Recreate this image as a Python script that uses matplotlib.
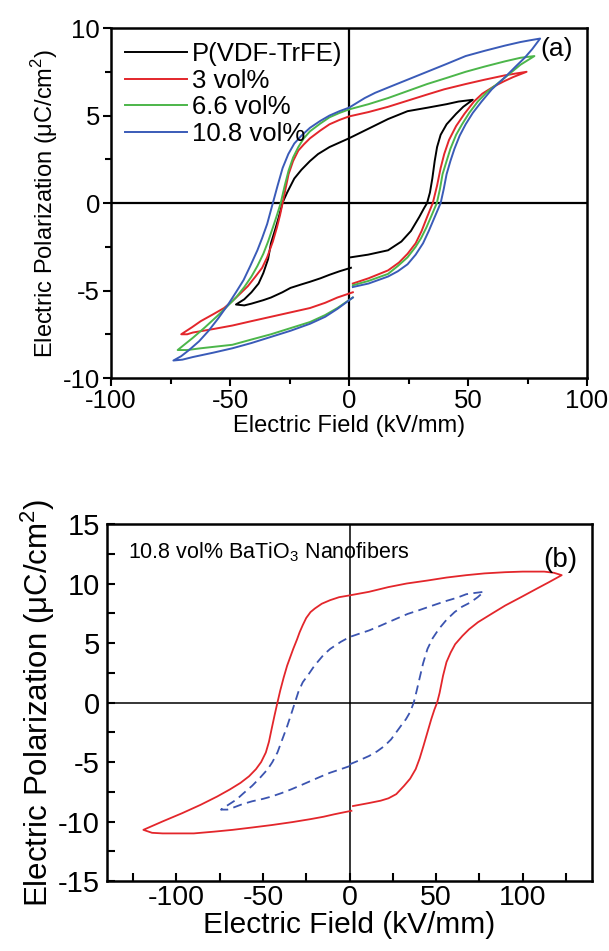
import numpy as np
import matplotlib.pyplot as plt
from matplotlib.ticker import MultipleLocator

plt.rcParams['font.family'] = ['Liberation Sans', 'DejaVu Sans']
plt.rcParams['mathtext.fontset'] = 'custom'
plt.rcParams['mathtext.rm'] = 'Liberation Sans'
plt.rcParams['axes.unicode_minus'] = False

# ---- panel (a): loops (E in kV/mm, P in uC/cm2) ----
pvdf_E = [0.8, 8.0, 16.4, 22.0, 26.0, 29.5, 31.5, 32.8, 34.0, 35.0, 36.0, 37.0, 38.5, 41.0, 45.0, 48.0, 52.0,
          46.0, 41.0, 33.0, 24.6, 16.4, 8.2, 0.0, -8.2, -13.0, -16.4, -20.0, -23.0, -26.0, -28.0,
          -29.5, -31.0, -32.8, -34.0, -36.0, -38.0, -41.0, -44.0, -47.5,
          -44.0, -41.0, -36.0, -32.8, -28.0, -24.6, -20.0, -16.4, -12.0, -8.2, -4.0, 0.8]
pvdf_P = [-3.1, -2.95, -2.7, -2.2, -1.6, -0.8, -0.3, 0.0, 0.6, 1.4, 2.4, 3.2, 3.9, 4.5, 5.1, 5.5, 5.9,
          5.8, 5.65, 5.45, 5.25, 4.8, 4.25, 3.7, 3.2, 2.8, 2.4, 1.9, 1.4, 0.6, 0.0,
          -0.8, -1.5, -2.3, -3.2, -4.0, -4.6, -5.1, -5.5, -5.8,
          -5.85, -5.75, -5.55, -5.4, -5.1, -4.85, -4.65, -4.5, -4.3, -4.1, -3.9, -3.7]

vol3_E = [1.6, 8.2, 16.4, 21.0, 24.6, 28.0, 30.5, 32.8, 35.2, 37.0, 38.5, 40.0, 42.0, 45.0, 48.5,
          52.5, 56.0, 60.7, 65.0, 69.0, 74.6,
          70.0, 65.6, 57.0, 49.0, 40.0, 32.8, 24.6, 16.4, 8.2, 0.0, -4.0, -8.2, -12.0, -16.4,
          -19.0, -21.3, -23.5, -25.4, -26.7, -27.9, -29.0, -30.3, -32.0, -34.4, -36.5, -39.3,
          -42.5, -45.9, -49.0, -52.5, -57.0, -62.3, -66.0, -70.5,
          -68.0, -65.6, -57.0, -49.0, -41.0, -32.8, -24.6, -16.4, -10.0, -4.9, 1.6]
vol3_P = [-4.6, -4.3, -3.85, -3.4, -2.9, -2.3, -1.6, -0.8, 0.0, 1.0, 2.0, 2.8, 3.6, 4.4, 5.1,
          5.8, 6.25, 6.65, 6.95, 7.2, 7.5,
          7.4, 7.3, 7.05, 6.8, 6.5, 6.2, 5.85, 5.5, 5.2, 4.95, 4.75, 4.5, 4.15, 3.7,
          3.35, 3.0, 2.4, 1.65, 0.8, 0.0, -0.7, -1.4, -2.2, -3.1, -3.7, -4.2,
          -4.75, -5.2, -5.6, -6.0, -6.35, -6.75, -7.1, -7.5,
          -7.5, -7.4, -7.2, -7.0, -6.75, -6.5, -6.25, -6.0, -5.7, -5.4, -5.1]

vol66_E = [1.6, 8.2, 16.4, 20.5, 24.6, 28.0, 30.3, 32.5, 34.4, 36.9, 38.2, 39.3, 41.0, 42.6, 45.0,
           47.5, 50.5, 54.1, 58.0, 64.0, 68.0, 72.0, 77.9,
           72.0, 65.6, 57.0, 49.0, 41.0, 32.8, 24.6, 16.4, 8.2, 0.0, -4.0, -8.2, -12.0, -16.4,
           -19.0, -21.3, -23.5, -25.4, -27.0, -28.7, -30.3, -32.0, -34.0, -36.0, -38.5, -41.0,
           -44.0, -47.5, -51.5, -55.7, -60.5, -65.6, -72.0,
           -68.0, -62.3, -55.7, -49.0, -41.0, -32.8, -24.6, -16.4, -10.0, -4.9, 1.6]
vol66_P = [-4.7, -4.45, -4.05, -3.6, -3.1, -2.5, -2.0, -1.4, -0.8, 0.0, 0.8, 1.65, 2.4, 3.1, 3.9,
           4.5, 5.15, 5.8, 6.35, 7.0, 7.45, 7.9, 8.4,
           8.3, 8.1, 7.8, 7.5, 7.15, 6.8, 6.4, 6.0, 5.65, 5.35, 5.15, 4.9, 4.55, 4.1,
           3.7, 3.2, 2.6, 1.85, 1.0, 0.0, -0.7, -1.4, -2.2, -2.9, -3.6, -4.2,
           -4.8, -5.4, -5.95, -6.5, -7.1, -7.7, -8.4,
           -8.4, -8.3, -8.2, -8.1, -7.8, -7.5, -7.15, -6.8, -6.4, -6.0, -5.4]

vol108_E = [1.6, 8.2, 16.4, 20.5, 24.6, 28.0, 31.1, 33.5, 36.0, 38.5, 39.8, 41.0, 42.6, 44.3, 46.5,
            49.0, 52.0, 55.7, 60.0, 65.6, 70.0, 73.8, 77.0, 80.3,
            76.0, 72.0, 65.6, 57.0, 49.0, 41.0, 32.8, 24.6, 16.4, 11.0, 6.6, 3.0, 0.0, -4.0, -8.2,
            -12.0, -16.4, -20.0, -23.0, -25.5, -27.9, -30.0, -32.0, -33.2, -34.4, -36.5, -38.5,
            -41.5, -44.3, -47.5, -50.8, -55.0, -59.0, -63.0, -67.2, -70.5, -73.8,
            -70.0, -65.6, -57.0, -49.0, -41.0, -32.8, -24.6, -16.4, -10.0, -4.9, 1.6]
vol108_P = [-4.8, -4.6, -4.2, -3.9, -3.5, -2.95, -2.3, -1.6, -0.8, 0.0, 0.8, 1.65, 2.4, 3.1, 3.85,
            4.5, 5.15, 5.8, 6.5, 7.2, 7.8, 8.3, 8.8, 9.4,
            9.3, 9.2, 9.0, 8.7, 8.4, 7.95, 7.5, 7.05, 6.6, 6.3, 6.0, 5.7, 5.45, 5.25, 5.0,
            4.7, 4.3, 3.85, 3.4, 2.8, 2.0, 1.0, 0.0, -0.6, -1.2, -2.0, -2.7,
            -3.6, -4.4, -5.1, -5.8, -6.6, -7.3, -7.9, -8.4, -8.75, -9.0,
            -8.95, -8.8, -8.55, -8.3, -8.0, -7.65, -7.3, -6.9, -6.5, -6.05, -5.4]

labels_a = ['P(VDF-TrFE)', '3 vol%', '6.6 vol%', '10.8 vol%']
colors_a = ['black', '#e3262b', '#4cb64a', '#3a5bb8']

# ---- panel (b): 10.8 vol% nanofibers at two fields ----
high_E = [2.0, 11.2, 18.0, 22.5, 27.0, 31.5, 35.0, 38.2, 40.5, 42.7, 45.0, 47.2, 49.0, 50.6, 52.0,
          54.0, 56.0, 58.4, 61.0, 65.2, 69.0, 74.2, 82.0, 89.9, 99.0, 107.9, 115.0, 122.5,
          118.0, 112.4, 100.0, 89.9, 78.0, 67.4, 56.0, 45.0, 33.0, 22.5, 11.2, 0.0, -6.0, -11.2,
          -16.0, -20.0, -22.5, -25.0, -27.0, -28.8, -30.3, -32.5, -34.5, -36.0, -38.0, -40.0,
          -41.6, -43.3, -45.0, -46.5, -48.3, -51.0, -54.0, -58.0, -62.9, -69.0, -76.4, -86.0,
          -96.6, -108.0, -119.0,
          -114.0, -107.9, -89.9, -78.0, -67.4, -56.0, -45.0, -33.0, -22.5, -15.0, -9.0, -4.0, 1.1]
high_P = [-8.7, -8.45, -8.25, -8.05, -7.7, -7.0, -6.4, -5.6, -4.7, -3.65, -2.5, -1.4, -0.6, 0.0, 0.8,
          2.25, 3.4, 4.2, 4.9, 5.6, 6.15, 6.75, 7.45, 8.15, 8.85, 9.55, 10.1, 10.7,
          10.9, 11.0, 11.0, 10.95, 10.85, 10.7, 10.5, 10.25, 10.0, 9.7, 9.3, 9.0, 8.85, 8.6,
          8.3, 7.9, 7.6, 7.1, 6.5, 5.9, 5.3, 4.5, 3.7, 3.1, 2.1, 1.0,
          0.0, -1.1, -2.25, -3.3, -4.2, -5.0, -5.6, -6.2, -6.75, -7.3, -7.9, -8.6,
          -9.3, -10.0, -10.7,
          -10.95, -11.0, -11.0, -10.85, -10.7, -10.5, -10.3, -10.05, -9.8, -9.6, -9.4, -9.25, -9.1]

low_E = [0.0, 5.0, 11.2, 16.0, 20.2, 24.0, 27.0, 30.0, 32.6, 35.0, 37.1, 38.8, 40.4, 42.5, 45.0,
         48.0, 51.7, 56.0, 60.7, 65.0, 69.7, 74.0, 77.5,
         72.0, 67.4, 62.0, 56.2, 50.0, 45.0, 39.0, 33.7, 28.0, 22.5, 17.0, 11.2, 5.0, 0.0,
         -5.0, -11.2, -15.0, -20.2, -23.5, -27.0, -29.5, -31.5, -33.5, -36.0, -38.8, -41.6,
         -44.5, -47.2, -51.5, -56.2, -61.0, -65.2, -70.0, -74.2,
         -70.5, -67.4, -62.0, -56.2, -50.0, -45.0, -39.0, -33.7, -28.0, -22.5, -17.0, -11.2, -5.0, 0.0]
low_P = [-5.2, -4.9, -4.5, -4.1, -3.65, -3.1, -2.5, -1.9, -1.4, -0.8, 0.0, 1.0, 2.0, 3.3, 4.5,
         5.4, 6.2, 6.95, 7.6, 8.05, 8.4, 8.85, 9.3,
         9.2, 9.1, 8.8, 8.55, 8.25, 8.0, 7.7, 7.45, 7.1, 6.75, 6.4, 6.05, 5.75, 5.5,
         5.1, 4.5, 4.0, 3.1, 2.4, 1.7, 0.9, 0.0, -0.9, -2.0, -3.1, -4.2,
         -5.0, -5.6, -6.3, -7.0, -7.6, -8.15, -8.6, -9.0,
         -9.0, -8.85, -8.55, -8.3, -8.1, -7.9, -7.6, -7.3, -6.95, -6.6, -6.25, -5.9, -5.6, -5.35]

fig = plt.figure(figsize=(6.09, 9.51), dpi=100)

# ---------------- (a) ----------------
ax1 = fig.add_axes([0.1823, 0.6025, 0.7816, 0.368])
for (E, P), lab, c in zip([(pvdf_E, pvdf_P), (vol3_E, vol3_P), (vol66_E, vol66_P), (vol108_E, vol108_P)],
                          labels_a, colors_a):
    ax1.plot(E, P, color=c, lw=1.4, label=lab)
ax1.axhline(0, color='black', lw=1.6, zorder=0)
ax1.axvline(0, color='black', lw=1.6, zorder=0)
ax1.set_xlim(-100, 100)
ax1.set_ylim(-10, 10)
ax1.xaxis.set_major_locator(MultipleLocator(50))
ax1.xaxis.set_minor_locator(MultipleLocator(25))
ax1.yaxis.set_major_locator(MultipleLocator(5))
ax1.yaxis.set_minor_locator(MultipleLocator(2.5))
ax1.tick_params(which='both', direction='out', width=1.5, labelsize=18.5, pad=2)
ax1.tick_params(which='major', length=6)
ax1.tick_params(which='minor', length=4)
for s in ax1.spines.values():
    s.set_linewidth(1.8)
ax1.set_xlabel('Electric Field (kV/mm)', fontsize=17, labelpad=1)
ax1.set_ylabel('Electric Polarization (μC/cm$^2$)', fontsize=17, labelpad=2)
leg = ax1.legend(loc='upper left', frameon=False, fontsize=18.5, handlelength=2.4,
                 handletextpad=0.2, labelspacing=0.1, borderaxespad=0.15)
ax1.text(0.97, 0.94, '(a)', transform=ax1.transAxes, ha='right', va='center', fontsize=19)

# ---------------- (b) ----------------
ax2 = fig.add_axes([0.1757, 0.0736, 0.7964, 0.3754])
ax2.plot(high_E, high_P, color='#e3262b', lw=1.3)
ax2.plot(low_E, low_P, color='#3b54b0', lw=1.3, ls=(0, (5, 3)))
ax2.axhline(0, color='black', lw=1.1, zorder=0)
ax2.axvline(0, color='black', lw=1.1, zorder=0)
ax2.set_xlim(-140, 140)
ax2.set_ylim(-15, 15)
ax2.xaxis.set_major_locator(MultipleLocator(50))
ax2.xaxis.set_minor_locator(MultipleLocator(25))
ax2.yaxis.set_major_locator(MultipleLocator(5))
ax2.yaxis.set_minor_locator(MultipleLocator(2.5))
ax2.tick_params(which='both', direction='in', width=1.5, length=6, labelsize=21, pad=5)
ax2.tick_params(axis='x', labelsize=20.5, pad=3)
for s in ax2.spines.values():
    s.set_linewidth(1.8)
ax2.set_xlabel('Electric Field (kV/mm)', fontsize=21.5, labelpad=0)
ax2.set_ylabel('Electric Polarization (μC/cm$^2$)', fontsize=22.5, labelpad=1)
ax2.text(-128, 12.6, '10.8 vol% BaTiO$_3$ Nanofibers', fontsize=15.5, va='center')
ax2.text(0.97, 0.90, '(b)', transform=ax2.transAxes, ha='right', va='center', fontsize=20)

fig.savefig('out.png', dpi=100)
